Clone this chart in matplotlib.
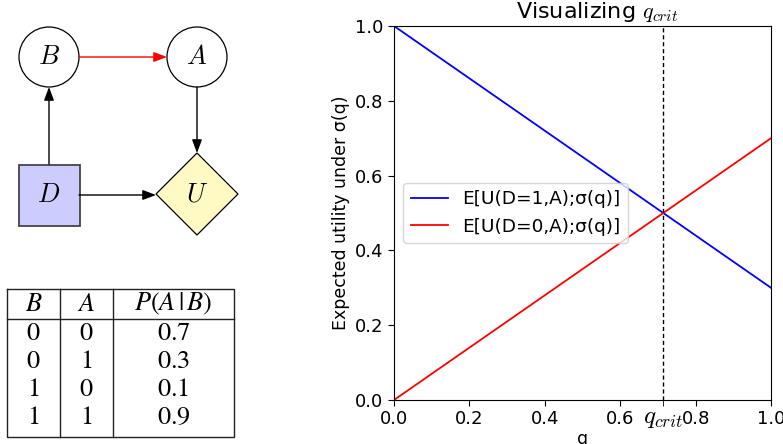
import matplotlib
matplotlib.use('Agg')
import matplotlib.pyplot as plt
from matplotlib.patches import Circle, Rectangle, Polygon, FancyArrowPatch

plt.rcParams['mathtext.fontset'] = 'cm'

# Données du graphique
q_values = [0.0, 1.0]
eu_d1 = [1.0, 0.3]
eu_d0 = [0.0, 0.7]
q_crit = 0.714
x_ticks = [0.0, 0.2, 0.4, 0.6, 0.8, 1.0]
y_ticks = [0.0, 0.2, 0.4, 0.6, 0.8, 1.0]

# Table P(A|B)
col_b = ['0', '0', '1', '1']
col_a = ['0', '1', '0', '1']
p_a_given_b = ['0.7', '0.3', '0.1', '0.9']
headers = ['$B$', '$A$', r'$P(A\,|\,B)$']

fig = plt.figure(figsize=(7.83, 4.44), dpi=100)

# Partie gauche : diagramme d'influence + table (coordonnées en pixels)
ax_d = fig.add_axes([0, 0, 260 / 783, 1])
ax_d.set_xlim(0, 260)
ax_d.set_ylim(444, 0)
ax_d.axis('off')

nodes = {'B': (49, 57), 'A': (197, 57), 'D': (49, 195), 'U': (197, 194)}
r = 30
for name in ['B', 'A']:
    ax_d.add_patch(Circle(nodes[name], r, fc='white', ec='black', lw=0.9))
dx, dy = nodes['D']
ax_d.add_patch(Rectangle((dx - 30.5, dy - 30.5), 61, 61, fc='#ccccff', ec='#444444', lw=1.3))
ux, uy = nodes['U']
h = 41
ax_d.add_patch(Polygon([(ux, uy - h), (ux + h, uy), (ux, uy + h), (ux - h, uy)],
                       closed=True, fc='#fff9c4', ec='black', lw=0.9))
for name, (x, y) in nodes.items():
    ax_d.text(x, y, '$' + name + '$', ha='center', va='center', fontsize=19)

arrows = [((79, 57), (167, 57), 'red'),
          ((197, 87), (197, 153), 'black'),
          ((49, 164), (49, 87), 'black'),
          ((79, 195), (156, 195), 'black')]
for a, b, c in arrows:
    ax_d.add_patch(FancyArrowPatch(a, b, arrowstyle='-|>,head_length=0.8,head_width=0.3',
                                   mutation_scale=10, color=c, lw=1.0,
                                   shrinkA=0, shrinkB=0))

# Table
col_x = [7, 60, 113, 234]
centers = [(col_x[i] + col_x[i + 1]) / 2 for i in range(3)]
top, head_line, bottom = 289, 319, 437
ax_d.plot([col_x[0], col_x[-1], col_x[-1], col_x[0], col_x[0]],
          [top, top, bottom, bottom, top], color='#222222', lw=1)
for x in col_x[1:-1]:
    ax_d.plot([x, x], [top, bottom], color='#222222', lw=1)
ax_d.plot([col_x[0], col_x[-1]], [head_line, head_line], color='#222222', lw=1)
for i, hd in enumerate(headers):
    ax_d.text(centers[i], 304, hd, ha='center', va='center', fontsize=19,
              math_fontfamily='stix')
for j, row in enumerate(zip(col_b, col_a, p_a_given_b)):
    for i, v in enumerate(row):
        ax_d.text(centers[i], 333 + 28 * j, '$' + v + '$', ha='center', va='center',
                  fontsize=19, math_fontfamily='stix')

# Partie droite : graphique
ax = fig.add_axes([394 / 783, 44 / 444, 377 / 783, 374 / 444])
ax.plot(q_values, eu_d1, color='blue', lw=1.3, label='E[U(D=1,A);σ(q)]')
ax.plot(q_values, eu_d0, color='red', lw=1.3, label='E[U(D=0,A);σ(q)]')
ax.axvline(q_crit, color='black', lw=1, linestyle=(0, (3, 2)))
ax.set_xlim(0, 1)
ax.set_ylim(0, 1)
ax.set_xticks(x_ticks)
ax.set_yticks(y_ticks)
ax.set_xticks([q_crit], [r'$q_{crit}$'], minor=True)
ax.tick_params(which='major', labelsize=13, length=4)
ax.tick_params(which='minor', labelsize=18, length=4, pad=0)
ax.set_xlabel('q', fontsize=12.5, labelpad=0)
ax.set_ylabel('Expected utility under σ(q)', fontsize=12.5)
ax.set_title(r'Visualizing $q_{crit}$', fontsize=16, x=0.54)
ax.legend(loc='center left', fontsize=13.3, handlelength=2)

plt.savefig('out.png', dpi=100)
